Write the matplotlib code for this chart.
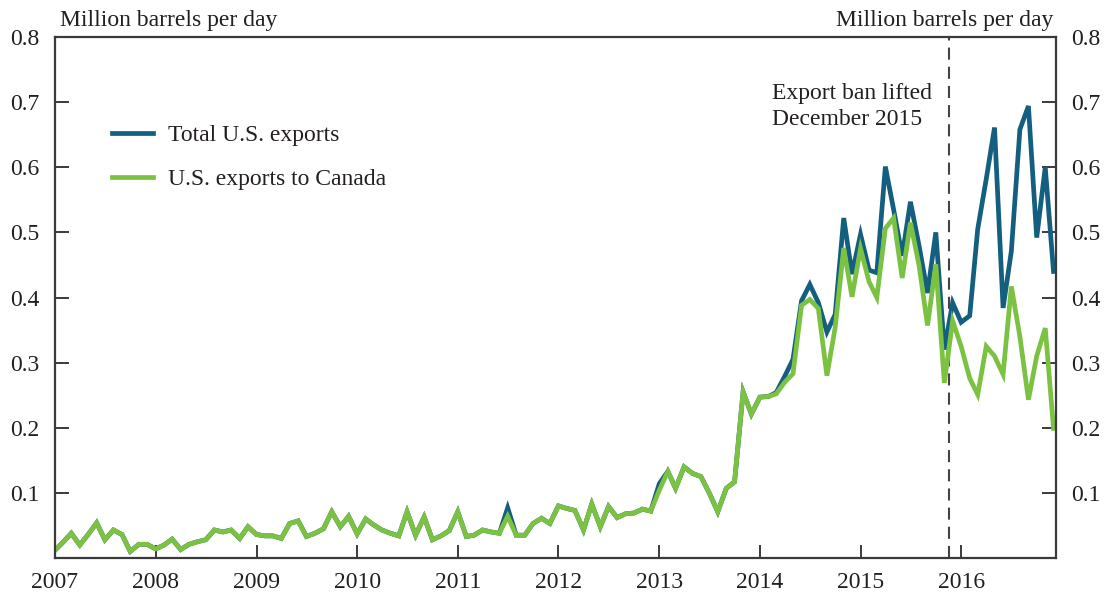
import matplotlib
matplotlib.use("Agg")
import matplotlib.pyplot as plt
import pandas as pd

plt.rcParams['font.family'] = ['Liberation Serif', 'DejaVu Serif']

months = pd.date_range('2007-01-01', periods=120, freq='MS')

canada = [
    0.012, 0.025, 0.038, 0.020, 0.036, 0.054, 0.028, 0.043, 0.036, 0.010, 0.021, 0.021,
    0.014, 0.020, 0.029, 0.013, 0.021, 0.025, 0.028, 0.043, 0.040, 0.043, 0.030, 0.048,
    0.036, 0.034, 0.034, 0.030, 0.053, 0.057, 0.033, 0.038, 0.045, 0.071, 0.048, 0.064,
    0.037, 0.060, 0.051, 0.043, 0.038, 0.034, 0.071, 0.035, 0.063, 0.028, 0.034, 0.042,
    0.071, 0.033, 0.035, 0.043, 0.040, 0.038, 0.064, 0.035, 0.035, 0.053, 0.061, 0.053,
    0.080, 0.076, 0.073, 0.043, 0.083, 0.048, 0.079, 0.062, 0.068, 0.069, 0.075, 0.072,
    0.104, 0.133, 0.107, 0.140, 0.130, 0.125, 0.100, 0.071, 0.107, 0.117, 0.255, 0.221,
    0.247, 0.248, 0.252, 0.270, 0.283, 0.388, 0.397, 0.383, 0.280, 0.354, 0.476, 0.401,
    0.475, 0.424, 0.400, 0.506, 0.522, 0.430, 0.515, 0.450, 0.357, 0.451, 0.269, 0.364,
    0.325, 0.276, 0.251, 0.325, 0.310, 0.282, 0.417, 0.340, 0.243, 0.310, 0.353, 0.199,
]

total = [
    0.012, 0.025, 0.038, 0.020, 0.036, 0.054, 0.028, 0.043, 0.036, 0.010, 0.021, 0.021,
    0.014, 0.020, 0.029, 0.013, 0.021, 0.025, 0.028, 0.043, 0.040, 0.043, 0.030, 0.048,
    0.036, 0.034, 0.034, 0.030, 0.053, 0.057, 0.033, 0.038, 0.045, 0.071, 0.048, 0.064,
    0.037, 0.060, 0.051, 0.043, 0.038, 0.034, 0.071, 0.035, 0.063, 0.028, 0.034, 0.042,
    0.071, 0.033, 0.035, 0.043, 0.040, 0.038, 0.077, 0.035, 0.035, 0.053, 0.061, 0.053,
    0.080, 0.076, 0.073, 0.043, 0.083, 0.048, 0.079, 0.062, 0.068, 0.069, 0.075, 0.072,
    0.114, 0.133, 0.107, 0.140, 0.130, 0.125, 0.100, 0.071, 0.107, 0.117, 0.255, 0.221,
    0.247, 0.248, 0.254, 0.279, 0.305, 0.395, 0.420, 0.392, 0.347, 0.374, 0.522, 0.436,
    0.497, 0.442, 0.438, 0.601, 0.535, 0.464, 0.547, 0.480, 0.407, 0.500, 0.320, 0.392,
    0.362, 0.372, 0.505, 0.582, 0.661, 0.384, 0.471, 0.658, 0.694, 0.492, 0.600, 0.440,
]

year_ticks = pd.date_range('2007-01-01', periods=10, freq='YS')
year_labels = [str(y) for y in range(2007, 2017)]
y_ticks = [0.1, 0.2, 0.3, 0.4, 0.5, 0.6, 0.7, 0.8]
y_labels = ['0.1', '0.2', '0.3', '0.4', '0.5', '0.6', '0.7', '0.8']
ban_date = pd.Timestamp('2015-11-18')

BLUE = '#145f7f'
GREEN = '#7cc242'
TXT = '#231f20'
AX = '#3a3a3a'
FS = 17

fig = plt.figure(figsize=(11.16, 5.97), dpi=100)
ax = fig.add_axes([55/1116, 1 - 558/597, (1056-55)/1116, (558-37)/597])

ax.plot(months, total, color=BLUE, lw=3.4, solid_joinstyle='miter', label='Total U.S. exports')
ax.plot(months, canada, color=GREEN, lw=3.4, solid_joinstyle='miter', label='U.S. exports to Canada')
ax.axvline(ban_date, color='#444444', lw=1.5, linestyle=(0, (5.8, 3.4)), zorder=1)

ax.set_xlim(pd.Timestamp('2007-01-01'), pd.Timestamp('2016-12-10'))
ax.set_ylim(0, 0.8)

ax.set_xticks(year_ticks)
ax.set_xticklabels(year_labels)
ax.set_yticks(y_ticks)
ax.set_yticklabels(y_labels)

for s in ax.spines.values():
    s.set_color(AX)
    s.set_linewidth(1.6)

ax.tick_params(axis='x', direction='in', length=9.5, width=1.4, color=AX,
               pad=10, labelsize=FS, labelcolor=TXT)
ax.tick_params(axis='y', direction='in', length=10, width=1.4, color=AX,
               pad=11, labelsize=FS, labelcolor=TXT, left=True, right=True,
               labelleft=True, labelright=True)

ax.text(0.005, 1.012, 'Million barrels per day', transform=ax.transAxes,
        ha='left', va='bottom', fontsize=FS, color=TXT)
ax.text(0.997, 1.012, 'Million barrels per day', transform=ax.transAxes,
        ha='right', va='bottom', fontsize=FS, color=TXT)

ax.text(pd.Timestamp('2014-02-15'), 0.73, 'Export ban lifted\nDecember 2015',
        ha='left', va='top', fontsize=FS, color=TXT, linespacing=1.32)

leg = ax.legend(loc='upper left', bbox_to_anchor=(0.057, 0.832), frameon=False,
                fontsize=FS, handlelength=1.74, handletextpad=0.63,
                labelspacing=0.97, borderpad=0, borderaxespad=0)
for t in leg.get_texts():
    t.set_color(TXT)

fig.savefig('out.png', dpi=100)
